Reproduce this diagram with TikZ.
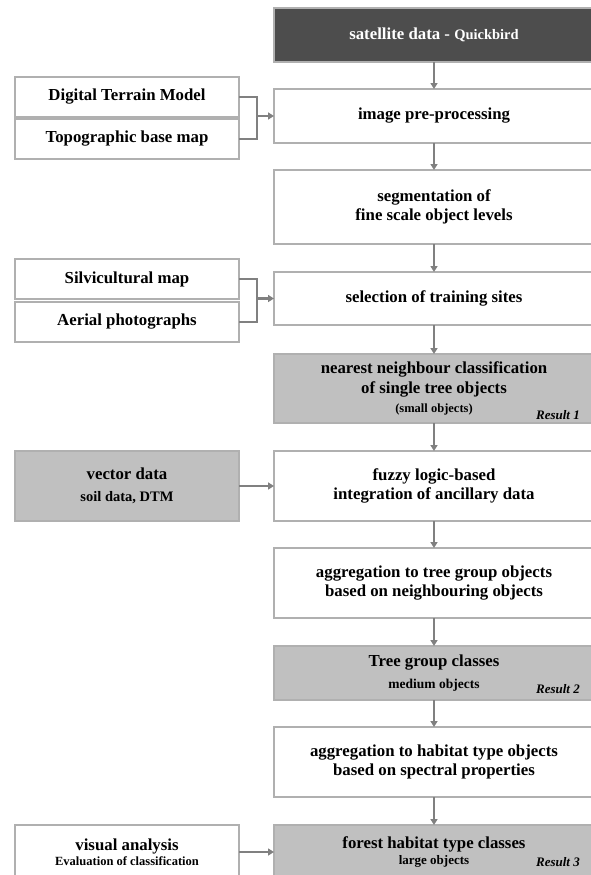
\documentclass[tikz,border=0pt]{standalone}
\usepackage{fontspec}
\setmainfont{Liberation Serif}
\usetikzlibrary{arrows.meta}

\definecolor{boxline}{HTML}{B0B0B0}
\definecolor{darkfill}{HTML}{4D4D4D}
\definecolor{resultfill}{HTML}{C0C0C0}
\definecolor{linkgray}{HTML}{808080}
\newcommand{\subtxt}[1]{\fontsize{#1}{15}\selectfont}

\begin{document}
\begin{tikzpicture}[x=1pt, y=-1pt, >={Triangle[length=6pt,width=7pt]},
    box/.style={draw=boxline, line width=1.2pt, outer sep=0pt, inner sep=2pt, align=center,
        font=\fontsize{16.8}{19.5}\bfseries},
    mainbox/.style={box, minimum width=320pt},
    sidebox/.style={box, minimum width=224pt},
    result/.style={anchor=base east, inner sep=0pt, font=\fontsize{13}{15}\bfseries\itshape},
    link/.style={draw=linkgray, line width=2.2pt}]
    \path[use as bounding box, fill=white] (0,0) rectangle (590,875);

    % Hauptspalte
    \node[mainbox, fill=darkfill, text=white, minimum height=54pt] (sat) at (434,35) {satellite data - {\subtxt{14.5}Quickbird}};
    \node[mainbox, minimum height=54pt] (pre) at (434,116) {image pre-processing};
    \node[mainbox, minimum height=74pt] (seg) at (434,207) {segmentation of\\fine scale object levels};
    \node[mainbox, minimum height=53pt] (sel) at (434,298.5) {selection of training sites};
    \node[mainbox, fill=resultfill, minimum height=69pt] (nn) at (434,388.5)
        {nearest neighbour classification\\of single tree objects\\{\subtxt{12.5}(small objects)}};
    \node[mainbox, minimum height=70pt] (fuzzy) at (434,486) {fuzzy logic-based\\integration of ancillary data};
    \node[mainbox, minimum height=70pt] (aggtree) at (434,583) {aggregation to tree group objects\\based on neighbouring objects};
    \node[mainbox, fill=resultfill, minimum height=54pt] (treegrp) at (434,673) {Tree group classes\\[3pt]{\subtxt{13.5}medium objects}};
    \node[mainbox, minimum height=70pt] (agghab) at (434,762) {aggregation to habitat type objects\\based on spectral properties};
    \node[mainbox, fill=resultfill, minimum height=54pt] (forest) at (434,852) {forest habitat type classes\\[-4pt]{\subtxt{13}large objects}};

    % Ergebnisse
    \node[result] (res1) at (580,419.5) {Result 1};
    \node[result] (res2) at (580,693) {Result 2};
    \node[result] (res3) at (580,866) {Result 3};

    % Zusatzdaten
    \node[sidebox, minimum height=40pt] (dtm) at (127,97) {Digital Terrain Model};
    \node[sidebox, minimum height=40pt] (topo) at (127,139) {Topographic base map};
    \node[sidebox, minimum height=40pt] (silvi) at (127,279) {Silvicultural map};
    \node[sidebox, minimum height=40pt] (aerial) at (127,322) {Aerial photographs};
    \node[sidebox, fill=resultfill, minimum height=70pt] (vec) at (127,486) {vector data\\[3pt]{\subtxt{14.5}soil data, DTM}};
    \node[sidebox, minimum height=54pt] (vis) at (127,852) {visual analysis\\[-4pt]{\subtxt{12.5}Evaluation of classification}};

    % Pfeile
    \foreach \a/\b in {sat/pre, pre/seg, seg/sel, sel/nn, nn/fuzzy, fuzzy/aggtree, aggtree/treegrp, treegrp/agghab, agghab/forest}
        \draw[link, ->] (\a) -- (\b);

    % Klammern
    \coordinate (j1) at ([xshift=-17pt]pre.west);
    \draw[link] (dtm.east) -| (j1) |- (topo.east);
    \draw[link, ->] (j1) -- (pre.west);
    \coordinate (j2) at ([xshift=-17pt]sel.west);
    \draw[link] (silvi.east) -| (j2) |- (aerial.east);
    \draw[link, ->] (j2) -- (sel.west);
    \draw[link, ->] (vec) -- (fuzzy);
    \draw[link, ->] (vis) -- (forest);
\end{tikzpicture}
\end{document}
